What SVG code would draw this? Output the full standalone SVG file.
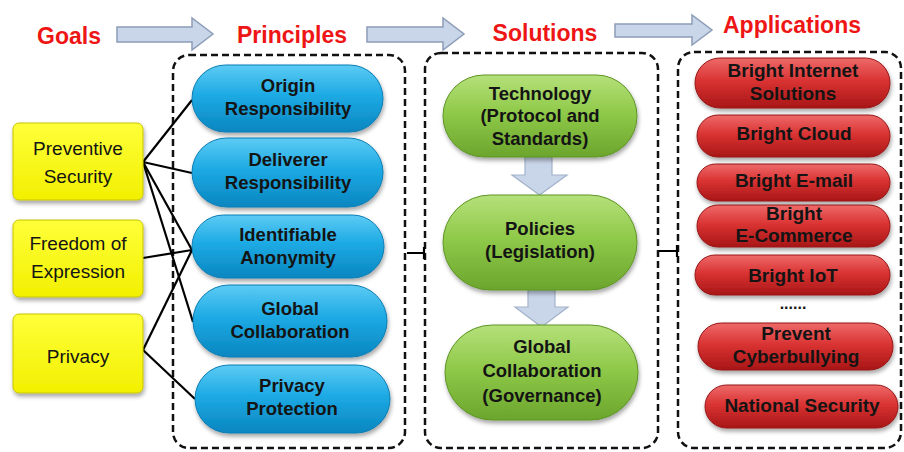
<svg xmlns="http://www.w3.org/2000/svg" width="904" height="452" viewBox="0 0 904 452">
<defs>
<linearGradient id="gBlue" x1="0" y1="0" x2="0" y2="1">
<stop offset="0" stop-color="#5CCBF4"/><stop offset="0.45" stop-color="#1DAAE4"/><stop offset="1" stop-color="#0A86C0"/>
</linearGradient>
<linearGradient id="gGreen" x1="0" y1="0" x2="0" y2="1">
<stop offset="0" stop-color="#B5E07A"/><stop offset="0.45" stop-color="#90CA4A"/><stop offset="1" stop-color="#6BA52C"/>
</linearGradient>
<linearGradient id="gRed" x1="0" y1="0" x2="0" y2="1">
<stop offset="0" stop-color="#EE6A6A"/><stop offset="0.45" stop-color="#DA3333"/><stop offset="1" stop-color="#A81616"/>
</linearGradient>
<linearGradient id="gYellow" x1="0" y1="0" x2="0" y2="1">
<stop offset="0" stop-color="#FFFF3A"/><stop offset="1" stop-color="#F2F000"/>
</linearGradient>
<filter id="sh" x="-10%" y="-10%" width="120%" height="130%">
<feDropShadow dx="1" dy="3" stdDeviation="2" flood-color="#000" flood-opacity="0.35"/>
</filter>
</defs>
<style>
.title{font-family:"Liberation Sans",Arial,sans-serif;font-weight:bold;font-size:23px;fill:#EE1515;text-anchor:middle}
.lbl{font-family:"Liberation Sans",Arial,sans-serif;font-weight:bold;font-size:18.5px;fill:#141414;text-anchor:middle}
.rlbl{font-family:"Liberation Sans",Arial,sans-serif;font-weight:bold;font-size:19px;fill:#141414;text-anchor:middle}
.ylbl{font-family:"Liberation Sans",Arial,sans-serif;font-size:19px;fill:#141414;text-anchor:middle}
.blue{fill:url(#gBlue);stroke:#0B7DB3;stroke-width:1;filter:url(#sh)}
.green{fill:url(#gGreen);stroke:#5E9526;stroke-width:1;filter:url(#sh)}
.red{fill:url(#gRed);stroke:#961414;stroke-width:1;filter:url(#sh)}
.yellow{fill:url(#gYellow);stroke:#C8C400;stroke-width:1;filter:url(#sh)}
.dash{fill:none;stroke:#111;stroke-width:2.5;stroke-dasharray:7 4}
.link{stroke:#000;stroke-width:2.2;fill:none}
.barrow{fill:#C9D5E8;stroke:#8C9DB8;stroke-width:1.5}
.darrow{fill:#C9D6EA;stroke:#A2B2CA;stroke-width:1.2}
</style>

<g id="headers">
<text class="title" x="69" y="44">Goals</text>
<text class="title" x="292" y="43">Principles</text>
<text class="title" x="545" y="41">Solutions</text>
<text class="title" x="792" y="33">Applications</text>
</g>

<g id="containers">
<rect id="box-principles" class="dash" x="173" y="55" width="232" height="393" rx="16"/>
<rect id="box-solutions" class="dash" x="425" y="53" width="233" height="395" rx="16"/>
<rect id="box-applications" class="dash" x="678" y="52" width="223" height="396" rx="16"/>
</g>

<g id="connectors">
<path class="barrow" d="M117 27 H192 V18 L213 34 L192 50 V42 H117 Z"/>
<path class="barrow" d="M367 27 H443 V18 L464 34 L443 50 V42 H367 Z"/>
<path class="barrow" d="M615 24 H692 V15 L712 30 L692 45 V37 H615 Z"/>
<path class="darrow" d="M525 157 H552 V175 H567 L539.5 195 L512 175 H525 Z"/>
<path class="darrow" d="M528 290 H555 V307 H568 L541.5 327 L515 307 H528 Z"/>
<line class="link" x1="143" y1="162" x2="192" y2="100"/>
<line class="link" x1="143" y1="162" x2="192" y2="173"/>
<line class="link" x1="143" y1="162" x2="192" y2="250"/>
<line class="link" x1="143" y1="162" x2="193" y2="322"/>
<line class="link" x1="143" y1="258" x2="192" y2="250"/>
<line class="link" x1="143" y1="350" x2="192" y2="250"/>
<line class="link" x1="143" y1="350" x2="195" y2="399"/>
<path class="link" d="M407 253 H424 M424 247 V259"/>
<path class="link" d="M659 251 H677 M677 245 V257"/>
</g>

<g id="goal-preventive-security">
<rect class="yellow" x="13" y="123" width="130" height="77" rx="6"/>
<text class="ylbl" x="78" y="155">Preventive</text>
<text class="ylbl" x="78" y="183">Security</text>
</g>
<g id="goal-freedom">
<rect class="yellow" x="13" y="220" width="130" height="77" rx="6"/>
<text class="ylbl" x="78" y="250">Freedom of</text>
<text class="ylbl" x="78" y="278">Expression</text>
</g>
<g id="goal-privacy">
<rect class="yellow" x="13" y="314" width="130" height="79" rx="6"/>
<text class="ylbl" x="78" y="363">Privacy</text>
</g>

<g id="p-origin">
<rect class="blue" x="192" y="65" width="191" height="67" rx="33.5"/>
<text class="lbl" x="288" y="92">Origin</text>
<text class="lbl" x="288" y="115">Responsibility</text>
</g>
<g id="p-deliverer">
<rect class="blue" x="192" y="138" width="191" height="69" rx="34.5"/>
<text class="lbl" x="288" y="166">Deliverer</text>
<text class="lbl" x="288" y="189">Responsibility</text>
</g>
<g id="p-identifiable">
<rect class="blue" x="192" y="215" width="192" height="63" rx="31.5"/>
<text class="lbl" x="288" y="241">Identifiable</text>
<text class="lbl" x="288" y="264">Anonymity</text>
</g>
<g id="p-global">
<rect class="blue" x="193" y="285" width="194" height="72" rx="36"/>
<text class="lbl" x="290" y="315">Global</text>
<text class="lbl" x="290" y="338">Collaboration</text>
</g>
<g id="p-privacy">
<rect class="blue" x="195" y="365" width="195" height="68" rx="34"/>
<text class="lbl" x="292" y="392">Privacy</text>
<text class="lbl" x="292" y="415">Protection</text>
</g>

<g id="s-technology">
<rect class="green" x="443" y="75" width="194" height="82" rx="41"/>
<text class="lbl" x="540" y="100">Technology</text>
<text class="lbl" x="540" y="122">(Protocol and</text>
<text class="lbl" x="540" y="145">Standards)</text>
</g>
<g id="s-policies">
<rect class="green" x="443" y="195" width="194" height="95" rx="47.5"/>
<text class="lbl" x="540" y="235">Policies</text>
<text class="lbl" x="540" y="258">(Legislation)</text>
</g>
<g id="s-global">
<rect class="green" x="445" y="325" width="193" height="95" rx="47.5"/>
<text class="lbl" x="542" y="353">Global</text>
<text class="lbl" x="542" y="377">Collaboration</text>
<text class="lbl" x="542" y="402">(Governance)</text>
</g>

<g id="a-internet">
<rect class="red" x="695" y="58" width="195" height="50" rx="25"/>
<text class="rlbl" x="793" y="77">Bright Internet</text>
<text class="rlbl" x="793" y="100">Solutions</text>
</g>
<g id="a-cloud">
<rect class="red" x="697" y="115" width="193" height="42" rx="21"/>
<text class="rlbl" x="794" y="140">Bright Cloud</text>
</g>
<g id="a-email">
<rect class="red" x="697" y="164" width="193" height="37" rx="18.5"/>
<text class="rlbl" x="794" y="187">Bright E-mail</text>
</g>
<g id="a-ecommerce">
<rect class="red" x="697" y="205" width="193" height="42" rx="21"/>
<text class="rlbl" x="794" y="220">Bright</text>
<text class="rlbl" x="794" y="242">E-Commerce</text>
</g>
<g id="a-iot">
<rect class="red" x="695" y="255" width="195" height="40" rx="20"/>
<text class="rlbl" x="793" y="282">Bright IoT</text>
</g>
<text class="rlbl" x="793" y="309" style="font-size:16px">......</text>
<g id="a-cyberbullying">
<rect class="red" x="698" y="323" width="195" height="47" rx="23.5"/>
<text class="rlbl" x="796" y="340">Prevent</text>
<text class="rlbl" x="796" y="363">Cyberbullying</text>
</g>
<g id="a-national">
<rect class="red" x="705" y="385" width="193" height="43" rx="21.5"/>
<text class="rlbl" x="802" y="412">National Security</text>
</g>
</svg>
